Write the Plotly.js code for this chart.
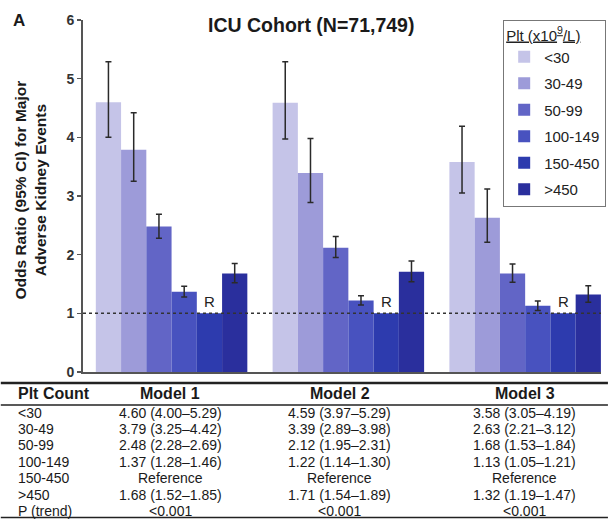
<!DOCTYPE html>
<html>
<head>
<meta charset="utf-8">
<script src="https://cdn.plot.ly/plotly-3.0.1.min.js"></script>
<style>html,body{margin:0;padding:0;background:#fff;}#chart{width:613px;height:519px;}</style>
</head>
<body>
<div id="chart"></div>
<script>
// ---------------- data ----------------
const models = ['Model 1', 'Model 2', 'Model 3'];
const pltCats = ['<30', '30-49', '50-99', '100-149', '150-450', '>450'];
const refCat = '150-450';
// odds ratios, lower and upper 95% CI, per model (order of pltCats)
const model1OR = [4.60, 3.79, 2.48, 1.37, 1.00, 1.68];
const model1Lo = [4.00, 3.25, 2.28, 1.28, 1.00, 1.52];
const model1Hi = [5.29, 4.42, 2.69, 1.46, 1.00, 1.85];
const model2OR = [4.59, 3.39, 2.12, 1.22, 1.00, 1.71];
const model2Lo = [3.97, 2.89, 1.95, 1.14, 1.00, 1.54];
const model2Hi = [5.29, 3.98, 2.31, 1.30, 1.00, 1.89];
const model3OR = [3.58, 2.63, 1.68, 1.13, 1.00, 1.32];
const model3Lo = [3.05, 2.21, 1.53, 1.05, 1.00, 1.19];
const model3Hi = [4.19, 3.12, 1.84, 1.21, 1.00, 1.47];
const pTrend = ['<0.001', '<0.001', '<0.001'];
const colors = ['#c5c4e8', '#9d9bd9', '#6265c6', '#4852bf', '#2d3bae', '#2a2f9d'];
const yTicks = [0, 1, 2, 3, 4, 5, 6];

// ---------------- build ----------------
const ORs = [model1OR, model2OR, model3OR];
const LOs = [model1Lo, model2Lo, model3Lo];
const HIs = [model1Hi, model2Hi, model3Hi];
const refIdx = pltCats.indexOf(refCat);
const bargap = 0.143;

const traces = pltCats.map((c, j) => {
  const isRef = j === refIdx;
  return {
    type: 'bar',
    name: c,
    legendgroup: 'g' + j,
    x: models,
    y: ORs.map(a => a[j]),
    marker: {color: colors[j], line: {width: 0}},
    error_y: {
      type: 'data',
      visible: !isRef,
      symmetric: false,
      array: HIs.map((a, m) => a[j] - ORs[m][j]),
      arrayminus: LOs.map((a, m) => ORs[m][j] - a[j]),
      color: '#2a2a2a',
      thickness: 1.5,
      width: 3
    },
    hoverinfo: 'skip'
  };
});

// pixel helpers (plot area 83..606 x, 20..372 y)
const L = 83, R = 606, T = 20, B = 372;
const px = v => (v - L) / (R - L);
const py = v => (B - v) / (B - T);

const font = 'Liberation Sans, Arial, sans-serif';
const annotations = [];
const shapes = [];
function txt(text, x, y, size, opts) {
  annotations.push(Object.assign({text: text, xref: 'paper', yref: 'paper', x: px(x), y: py(y),
    xanchor: 'center', yanchor: 'middle', showarrow: false,
    font: {family: font, size: size, color: '#1a1a1a'}}, opts || {}));
}

// panel letter, title, y title
txt('<b>A</b>', 18, 21, 17);
txt('<b>ICU Cohort (N=71,749)</b>', 313, 25, 19.5);
txt('<b>Odds Ratio (95% CI) for Major<br>Adverse Kidney Events</b>', 29, 190, 15.5, {textangle: -90});

// R labels above reference bars
const barW = (1 - bargap) / pltCats.length;
models.forEach((m, i) => {
  annotations.push({text: 'R', xref: 'x', yref: 'y', x: i + (refIdx - (pltCats.length - 1) / 2) * barW,
    y: ORs[i][refIdx], xanchor: 'center', yanchor: 'bottom', yshift: 1, showarrow: false,
    font: {family: font, size: 15, color: '#222'}});
});

// reference dotted line at OR = 1
shapes.push({type: 'line', xref: 'paper', yref: 'y', x0: 0, x1: 1, y0: 1, y1: 1,
  line: {color: '#333', width: 1.5, dash: 'dot'}, layer: 'above'});

// ---------------- table ----------------
const colX = [15, 171, 342, 529];
const headerY = 393;
const rowY0 = 412.5, rowStep = 16.4;
txt('<b>Plt Count</b>', colX[0], headerY, 16, {xanchor: 'left'});
models.forEach((m, i) => txt('<b>' + m + '</b>', colX[i + 1], headerY, 16));
const rowLabels = pltCats.concat(['P (trend)']);
rowLabels.forEach((lab, r) => {
  const yy = rowY0 + r * rowStep;
  txt(lab, colX[0], yy, 14, {xanchor: 'left'});
  models.forEach((m, i) => {
    let t;
    if (r === pltCats.length) t = pTrend[i];
    else if (r === refIdx) t = 'Reference';
    else t = ORs[i][r].toFixed(2) + ' (' + LOs[i][r].toFixed(2) + '\u2013' + HIs[i][r].toFixed(2) + ')';
    txt(t, colX[i + 1], yy, 14);
  });
});
[[383, 2.5], [405, 1.5], [517.5, 1.5]].forEach(([yv, w]) => {
  shapes.push({type: 'line', xref: 'paper', yref: 'paper', x0: px(0), x1: px(613), y0: py(yv), y1: py(yv),
    line: {color: '#222', width: w}});
});

const layout = {
  width: 613, height: 519,
  margin: {l: L, r: 613 - R, t: T, b: 519 - B},
  paper_bgcolor: '#fff', plot_bgcolor: '#fff',
  barmode: 'group', bargap: bargap, bargroupgap: 0,
  font: {family: font},
  showlegend: true,
  legend: {
    x: 1.01, y: py(20), xanchor: 'right', yanchor: 'top',
    bgcolor: '#fff', bordercolor: '#777', borderwidth: 1,
    font: {family: font, size: 15, color: '#222'},
    title: {text: '<u>Plt (x10<sup>9</sup>/L)</u>', font: {family: font, size: 15, color: '#222'}},
    traceorder: 'grouped', tracegroupgap: 4, itemclick: false
  },
  xaxis: {
    type: 'category', range: [-0.501, 2.429],
    showticklabels: false, ticks: '', showgrid: false, zeroline: false,
    showline: true, linecolor: '#555', linewidth: 2, fixedrange: true
  },
  yaxis: {
    range: [0, 6], tickvals: yTicks, ticktext: yTicks.map(v => '<b>' + v + '</b>'),
    ticks: 'outside', ticklen: 4, tickwidth: 1.5, tickcolor: '#555',
    tickfont: {family: font, size: 14, color: '#333'},
    showgrid: false, zeroline: false, showline: true, linecolor: '#555', linewidth: 2, fixedrange: true
  },
  annotations: annotations,
  shapes: shapes
};

Plotly.newPlot('chart', traces, layout, {displayModeBar: false, staticPlot: true});
</script>
</body>
</html>
